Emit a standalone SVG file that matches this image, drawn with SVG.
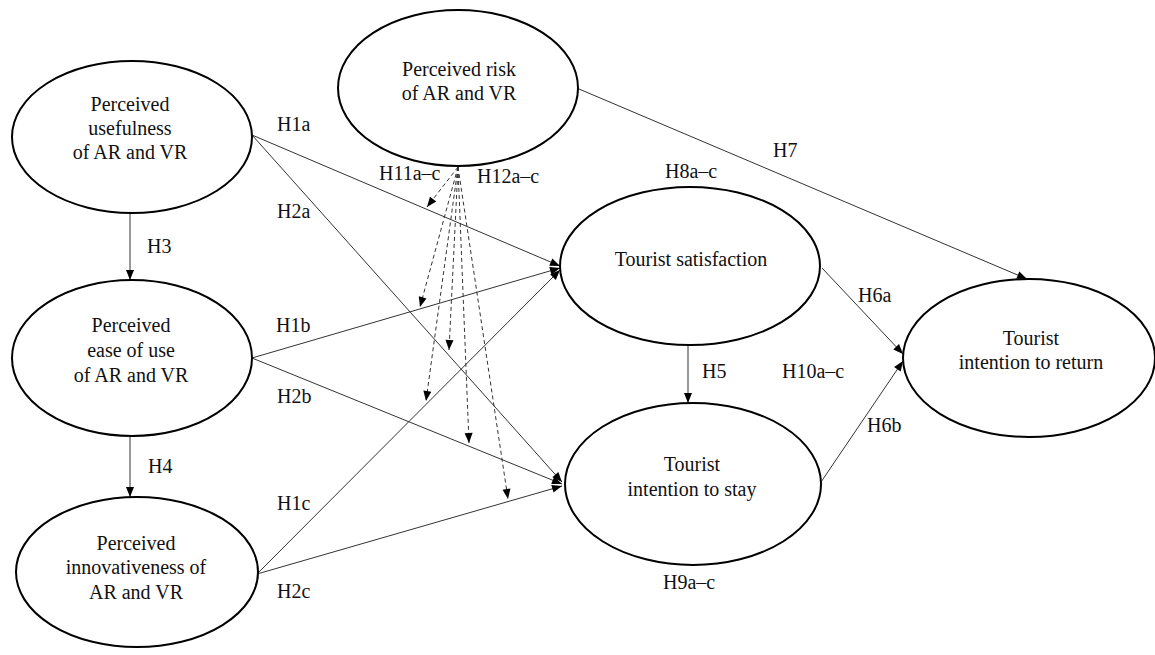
<svg xmlns="http://www.w3.org/2000/svg" width="1155" height="655" viewBox="0 0 1155 655">
<style>
.node ellipse{fill:#fff;stroke:#000;stroke-width:2}
.node text,.lbl{font-family:"Liberation Serif","Times New Roman",serif;font-size:20px;fill:#111}
.node text{text-anchor:middle}
.c{fill:none;stroke:#333;stroke-width:1;marker-end:url(#ah)}
.d{fill:none;stroke:#333;stroke-width:1;stroke-dasharray:4,3;marker-end:url(#ah)}
</style>
<defs>
<marker id="ah" markerUnits="userSpaceOnUse" markerWidth="11" markerHeight="9" refX="10" refY="4" orient="auto" overflow="visible">
<path d="M0,0 L10,4 L0,8 z" fill="#000"/>
</marker>
</defs>
<rect width="1155" height="655" fill="#fff"/>
<g id="connectors">
<line class="c" x1="130" y1="213" x2="130" y2="280"/>
<line class="c" x1="130" y1="437" x2="130" y2="497"/>
<line class="c" x1="252" y1="135" x2="560" y2="266"/>
<line class="c" x1="252" y1="135" x2="562" y2="482"/>
<line class="c" x1="252" y1="358" x2="560" y2="268"/>
<line class="c" x1="252" y1="358" x2="562" y2="484"/>
<line class="c" x1="257" y1="574" x2="560" y2="270"/>
<line class="c" x1="257" y1="574" x2="562" y2="486"/>
<line class="c" x1="579" y1="89" x2="1027" y2="279"/>
<line class="c" x1="688" y1="345" x2="688" y2="403"/>
<line class="c" x1="822" y1="268" x2="903" y2="354"/>
<line class="c" x1="821" y1="482" x2="903" y2="361"/>
<line class="d" x1="458" y1="167" x2="427" y2="207"/>
<line class="d" x1="458" y1="167" x2="420" y2="307"/>
<line class="d" x1="458" y1="167" x2="426" y2="401"/>
<line class="d" x1="458" y1="167" x2="449" y2="350"/>
<line class="d" x1="458" y1="167" x2="469" y2="443"/>
<line class="d" x1="458" y1="167" x2="508" y2="499"/>
<text class="lbl" x="277" y="131">H1a</text>
<text class="lbl" x="277" y="218">H2a</text>
<text class="lbl" x="147" y="253">H3</text>
<text class="lbl" x="276" y="332">H1b</text>
<text class="lbl" x="277" y="403">H2b</text>
<text class="lbl" x="148" y="473">H4</text>
<text class="lbl" x="277" y="510">H1c</text>
<text class="lbl" x="277" y="598">H2c</text>
<text class="lbl" x="379" y="180">H11a–c</text>
<text class="lbl" x="477" y="183">H12a–c</text>
<text class="lbl" x="665" y="178">H8a–c</text>
<text class="lbl" x="773" y="157">H7</text>
<text class="lbl" x="858" y="302">H6a</text>
<text class="lbl" x="702" y="378">H5</text>
<text class="lbl" x="782" y="378">H10a–c</text>
<text class="lbl" x="867" y="432">H6b</text>
<text class="lbl" x="663" y="589">H9a–c</text>
</g>
<g id="usefulness" class="node">
<ellipse cx="132" cy="137" rx="120" ry="76"/>
<text x="130" y="111">Perceived</text>
<text x="130" y="135">usefulness</text>
<text x="130" y="159">of AR and VR</text>
</g>
<g id="ease" class="node">
<ellipse cx="132" cy="358" rx="120" ry="78"/>
<text x="131" y="332">Perceived</text>
<text x="131" y="357">ease of use</text>
<text x="131" y="382">of AR and VR</text>
</g>
<g id="innovativeness" class="node">
<ellipse cx="137" cy="572" rx="121" ry="75"/>
<text x="136" y="550">Perceived</text>
<text x="136" y="574">innovativeness of</text>
<text x="136" y="599">AR and VR</text>
</g>
<g id="risk" class="node">
<ellipse cx="458" cy="88" rx="120" ry="78"/>
<text x="459" y="76">Perceived risk</text>
<text x="459" y="100">of AR and VR</text>
</g>
<g id="satisfaction" class="node">
<ellipse cx="690" cy="266" rx="130" ry="79"/>
<text x="691" y="266">Tourist satisfaction</text>
</g>
<g id="stay" class="node">
<ellipse cx="693" cy="484" rx="128" ry="81"/>
<text x="692" y="471">Tourist</text>
<text x="692" y="496">intention to stay</text>
</g>
<g id="return" class="node">
<ellipse cx="1029" cy="358" rx="126" ry="79"/>
<text x="1031" y="345">Tourist</text>
<text x="1031" y="369">intention to return</text>
</g>
</svg>
